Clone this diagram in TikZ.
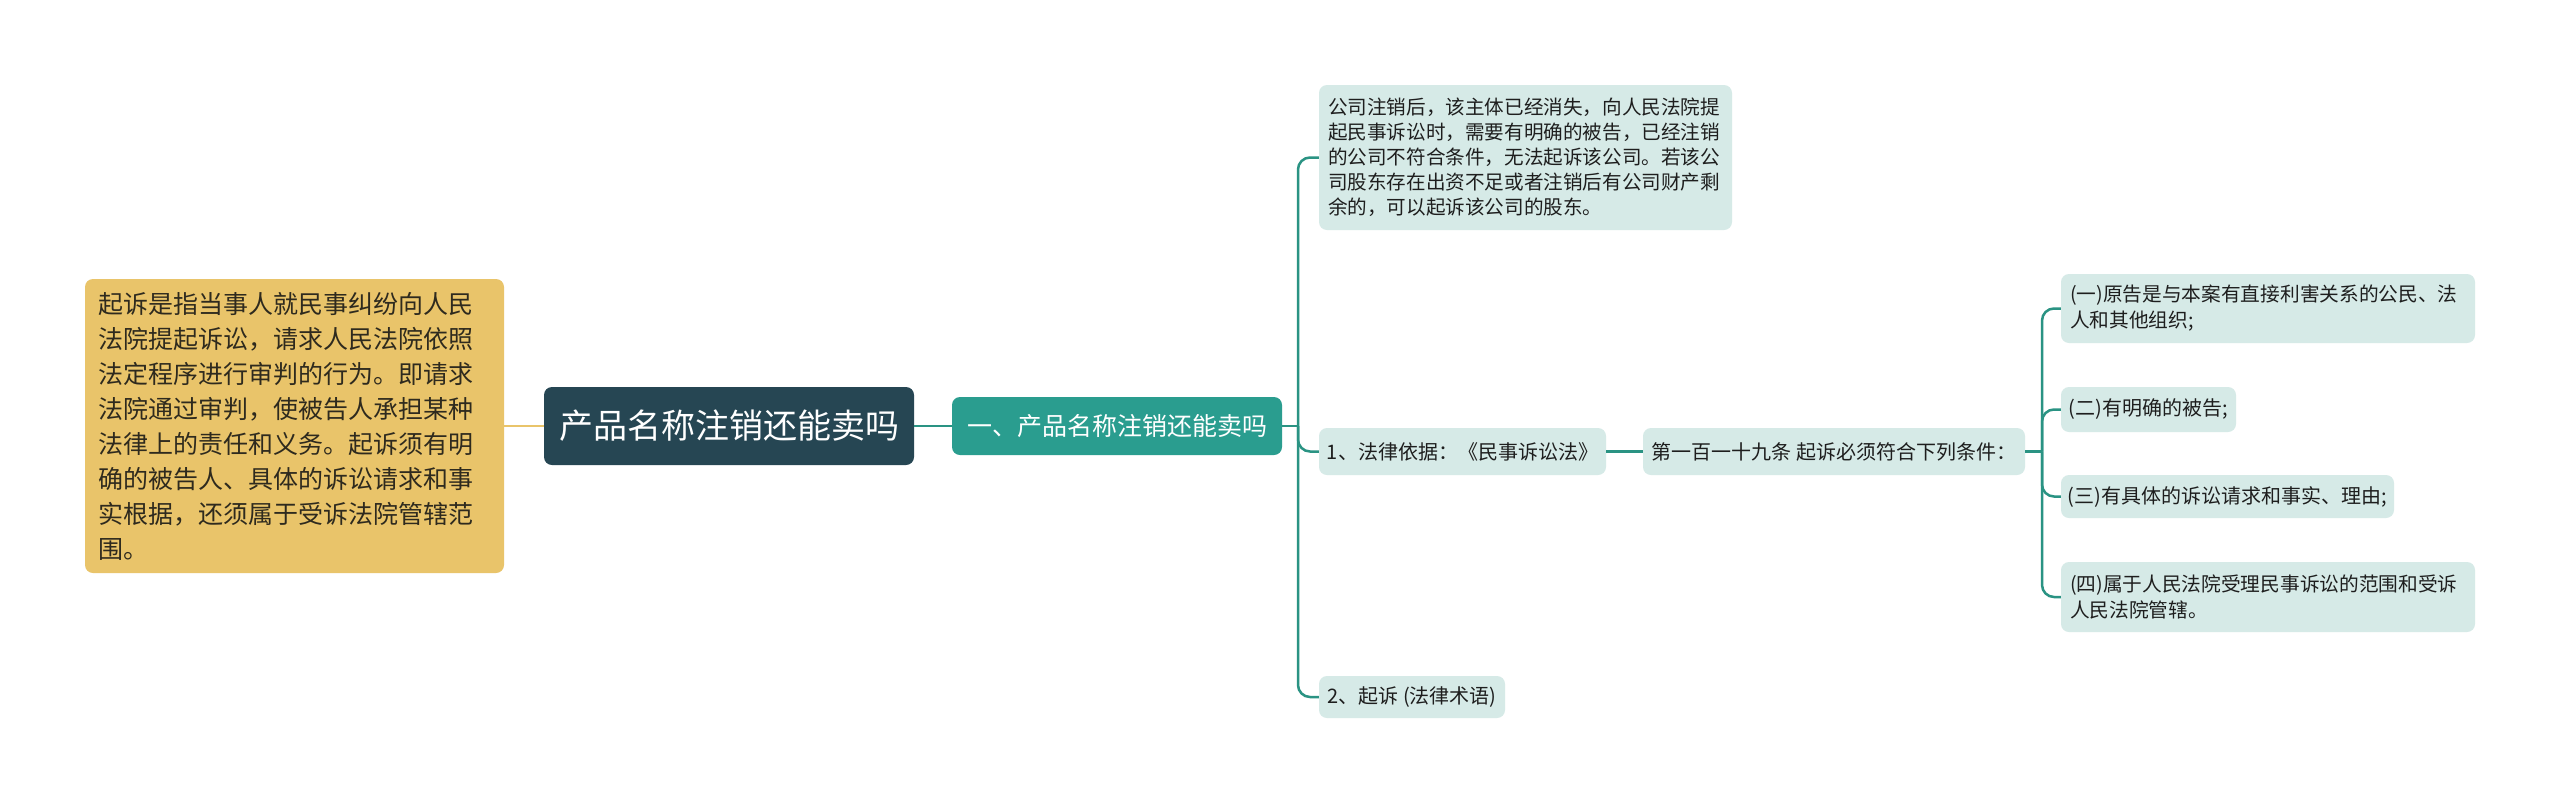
\documentclass[tikz,border=0pt]{standalone}
\usepackage{fontspec}
\setmainfont{Noto Sans CJK SC}
\definecolor{yelc}{HTML}{E9C46A}
\definecolor{yeltext}{HTML}{2E2A1E}
\definecolor{rootc}{HTML}{264653}
\definecolor{greenc}{HTML}{2A9D8F}
\definecolor{leafc}{HTML}{D6EAE7}
\definecolor{linec}{HTML}{2A9383}
\definecolor{leaftext}{HTML}{1E1E1E}
\begin{document}
\begin{tikzpicture}[x=1pt,y=-1pt,
  box/.style={rounded corners=8pt, inner sep=0pt, align=center},
  leaf/.style={box, fill=leafc, text=leaftext, font=\fontsize{20pt}{26pt}\selectfont},
  wrapleaf/.style={leaf, align=left, inner xsep=9pt, font=\fontsize{19.7pt}{26pt}\selectfont},
  conn/.style={draw=linec, line width=2.5pt},
  bconn/.style={conn, rounded corners=12pt},
]
\useasboundingbox[fill=white] (0,0) rectangle (2560,804);

\node[box, fill=yelc, text=yeltext, minimum width=419pt, minimum height=294pt,
      text width=393pt, inner xsep=13pt, align=left,
      font=\fontsize{25pt}{35pt}\selectfont] (yel) at (294.5,426)
  {起诉是指当事人就民事纠纷向人民\\法院提起诉讼，请求人民法院依照\\法定程序进行审判的行为。即请求\\法院通过审判，使被告人承担某种\\法律上的责任和义务。起诉须有明\\确的被告人、具体的诉讼请求和事\\实根据，还须属于受诉法院管辖范\\围。};

\node[box, fill=rootc, text=white, minimum width=370pt, minimum height=78pt,
      font=\fontsize{34pt}{40pt}\selectfont] (root) at (729,426) {产品名称注销还能卖吗};

\node[box, fill=greenc, text=white, minimum width=330pt, minimum height=58pt,
      font=\fontsize{25pt}{30pt}\selectfont] (sec) at (1117,426) {一、产品名称注销还能卖吗};

\node[wrapleaf, minimum width=413pt, minimum height=145pt, text width=395pt,
      font=\fontsize{19.6pt}{25pt}\selectfont] (top) at (1525.5,157.5)
  {公司注销后，该主体已经消失，向人民法院提\\起民事诉讼时，需要有明确的被告，已经注销\\的公司不符合条件，无法起诉该公司。若该公\\司股东存在出资不足或者注销后有公司财产剩\\余的，可以起诉该公司的股东。};

\node[leaf, minimum width=287pt, minimum height=47pt] (law) at (1462.5,451.5) {1、法律依据：《民事诉讼法》};
\node[leaf, minimum width=382pt, minimum height=47pt] (art) at (1834,451.5) {第一百一十九条 起诉必须符合下列条件：};
\node[leaf, minimum width=186pt, minimum height=42pt] (sue) at (1412,697) {2、起诉 (法律术语)};

\node[wrapleaf, minimum width=414pt, minimum height=69pt, text width=396pt] (r1) at (2268,308.5)
  {(一)原告是与本案有直接利害关系的公民、法\\人和其他组织;};
\node[leaf, minimum width=175pt, minimum height=45pt] (r2) at (2148.5,409.5) {(二)有明确的被告;};
\node[leaf, minimum width=333pt, minimum height=43pt] (r3) at (2227.5,496.5) {(三)有具体的诉讼请求和事实、理由;};
\node[wrapleaf, minimum width=414pt, minimum height=70pt, text width=396pt] (r4) at (2268,597)
  {(四)属于人民法院受理民事诉讼的范围和受诉\\人民法院管辖。};

\coordinate (j1) at (1298,426);
\coordinate (j2) at (2042,451.5);

\draw[draw=yelc, line width=2.5pt] (yel.east) -- (root.west);
\draw[conn] (root.east) -- (sec.west);
\draw[conn] (sec.east) -- (j1);
\draw[bconn] (j1) |- (top.west);
\draw[bconn] (j1) |- (law.west);
\draw[bconn] (j1) |- (sue.west);
\draw[conn] (law.east) -- (art.west);
\draw[conn] (art.east) -- (j2);
\draw[bconn] (j2) |- (r1.west);
\draw[bconn] (j2) |- (r2.west);
\draw[bconn] (j2) |- (r3.west);
\draw[bconn] (j2) |- (r4.west);
\end{tikzpicture}
\end{document}
